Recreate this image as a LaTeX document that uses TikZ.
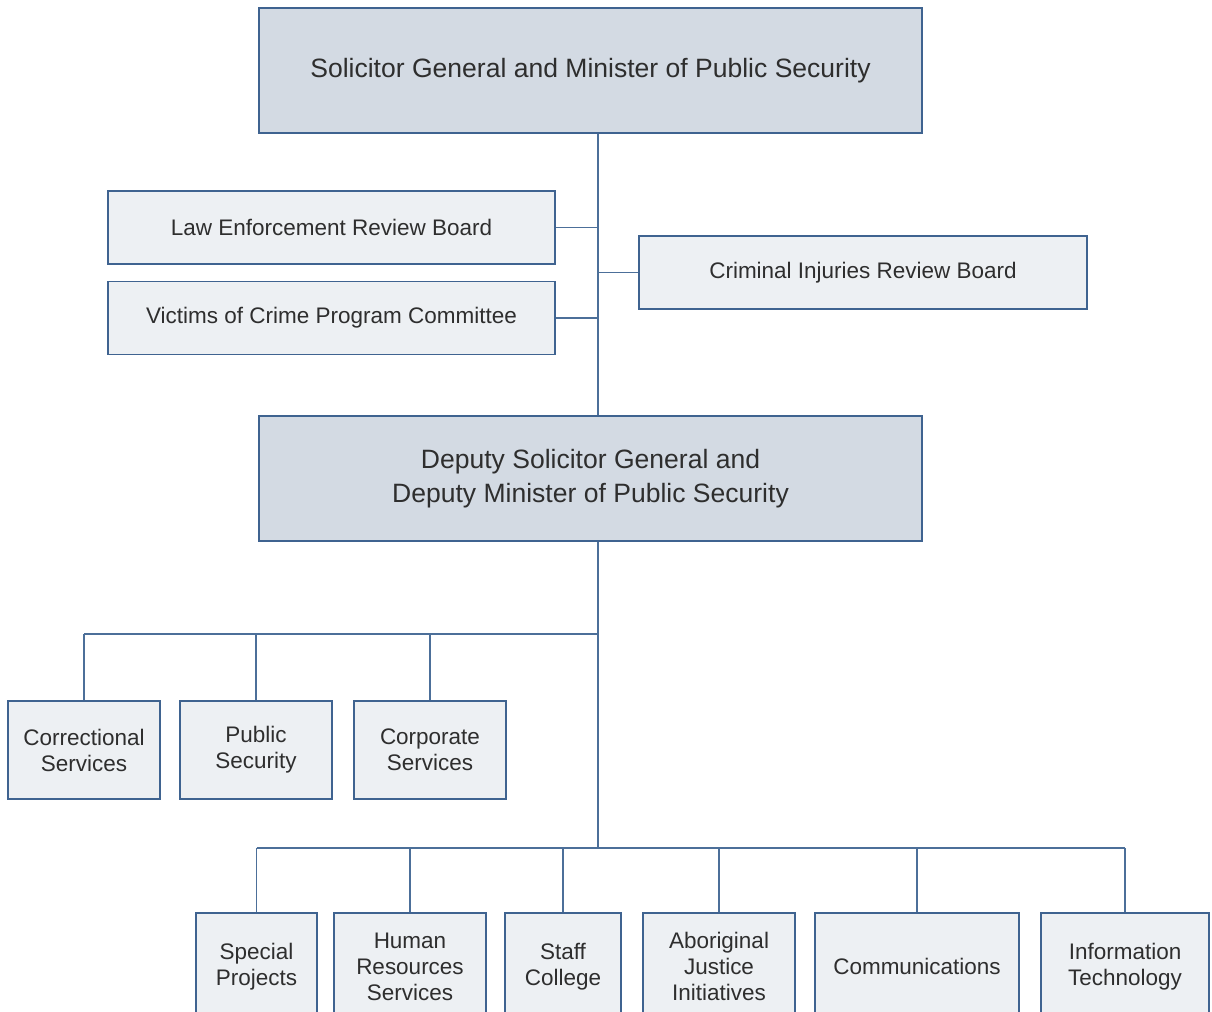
\documentclass[tikz,border=0pt]{standalone}
\usepackage{fontspec}
\setmainfont{Liberation Sans}
\usepackage{xcolor}
\usepackage{tikz}
\usetikzlibrary{calc,positioning}
\definecolor{edgex}{HTML}{3F6390}
\definecolor{linkx}{HTML}{4C6F99}
\definecolor{headbg}{HTML}{D3DAE3}
\definecolor{unitbg}{HTML}{EDF0F3}
\definecolor{inkx}{HTML}{2E2E2E}
\tikzset{
  head/.style={draw=edgex,line width=0.7pt,fill=headbg,text=inkx,align=center,
    minimum width=13.26cm,minimum height=2.5cm,inner sep=0pt,
    font=\fontsize{15.1}{19.3}\selectfont},
  board/.style={draw=edgex,line width=0.7pt,fill=unitbg,text=inkx,align=center,
    minimum height=1.46cm,inner sep=0pt,font=\fontsize{12.8}{14.8}\selectfont},
  unit/.style={draw=edgex,line width=0.7pt,fill=unitbg,text=inkx,align=center,
    inner sep=0pt,font=\fontsize{12.8}{14.8}\selectfont},
  link/.style={draw=linkx,line width=0.8pt}
}
\begin{document}
\begin{tikzpicture}[x=0.02cm,y=-0.02cm]
\useasboundingbox (0,0) rectangle (1212,1011);
\clip (0,0) rectangle (1212,1011);
% minister and deputy
\node[head] (sg) at (590.5,70.5) {Solicitor General and Minister of Public Security};
\node[head] (dsg) at (590.5,478.5) {Deputy Solicitor General and\\Deputy Minister of Public Security};
% review boards
\node[board,minimum width=8.94cm] (lerb) at (331.5,227.5) {Law Enforcement Review Board};
\node[board,minimum width=8.94cm] (vcpc) at (331.5,318) {Victims of Crime Program Committee};
\node[board,minimum width=8.96cm] (cirb) at (863,272.5) {Criminal Injuries Review Board};
% divisions
\node[unit,minimum width=3.04cm,minimum height=1.96cm] (cs) at (84,750) {Correctional\\Services};
\node[unit,minimum width=3.04cm,minimum height=1.96cm] (ps) at (256,750) {Public\\Security};
\node[unit,minimum width=3.04cm,minimum height=1.96cm] (corp) at (430,750) {Corporate\\Services};
% branches
\node[unit,minimum width=2.42cm,minimum height=2.14cm] (sp) at (256.5,966.5) {Special\\Projects};
\node[unit,minimum width=3.04cm,minimum height=2.14cm] (hr) at (410,966.5) {Human\\Resources\\Services};
\node[unit,minimum width=2.32cm,minimum height=2.14cm] (sc) at (563,966.5) {Staff\\College};
\node[unit,minimum width=3.04cm,minimum height=2.14cm] (aji) at (719,966.5) {Aboriginal\\Justice\\Initiatives};
\node[unit,minimum width=4.08cm,minimum height=2.14cm] (comm) at (917,966.5) {Communications};
\node[unit,minimum width=3.36cm,minimum height=2.14cm] (it) at (1125,966.5) {Information\\Technology};
% spine and buses
\coordinate (spine) at (598,0);
\coordinate (midbus) at (598,634);
\coordinate (lowbus) at (598,848);
\draw[link] (sg.south-|spine) -- (dsg.north-|spine);
\draw[link] (lerb.east) -- (lerb.east-|spine);
\draw[link] (vcpc.east) -- (vcpc.east-|spine);
\draw[link] (cirb.west) -- (cirb.west-|spine);
\draw[link] (dsg.south-|spine) -- (lowbus);
\draw[link] (cs.north|-midbus) -- (midbus);
\foreach \n in {cs,ps,corp}
  \draw[link] (\n.north) -- (\n.north|-midbus);
\draw[link] (sp.north|-lowbus) -- (it.north|-lowbus);
\foreach \n in {sp,hr,sc,aji,comm,it}
  \draw[link] (\n.north) -- (\n.north|-lowbus);
\end{tikzpicture}
\end{document}
